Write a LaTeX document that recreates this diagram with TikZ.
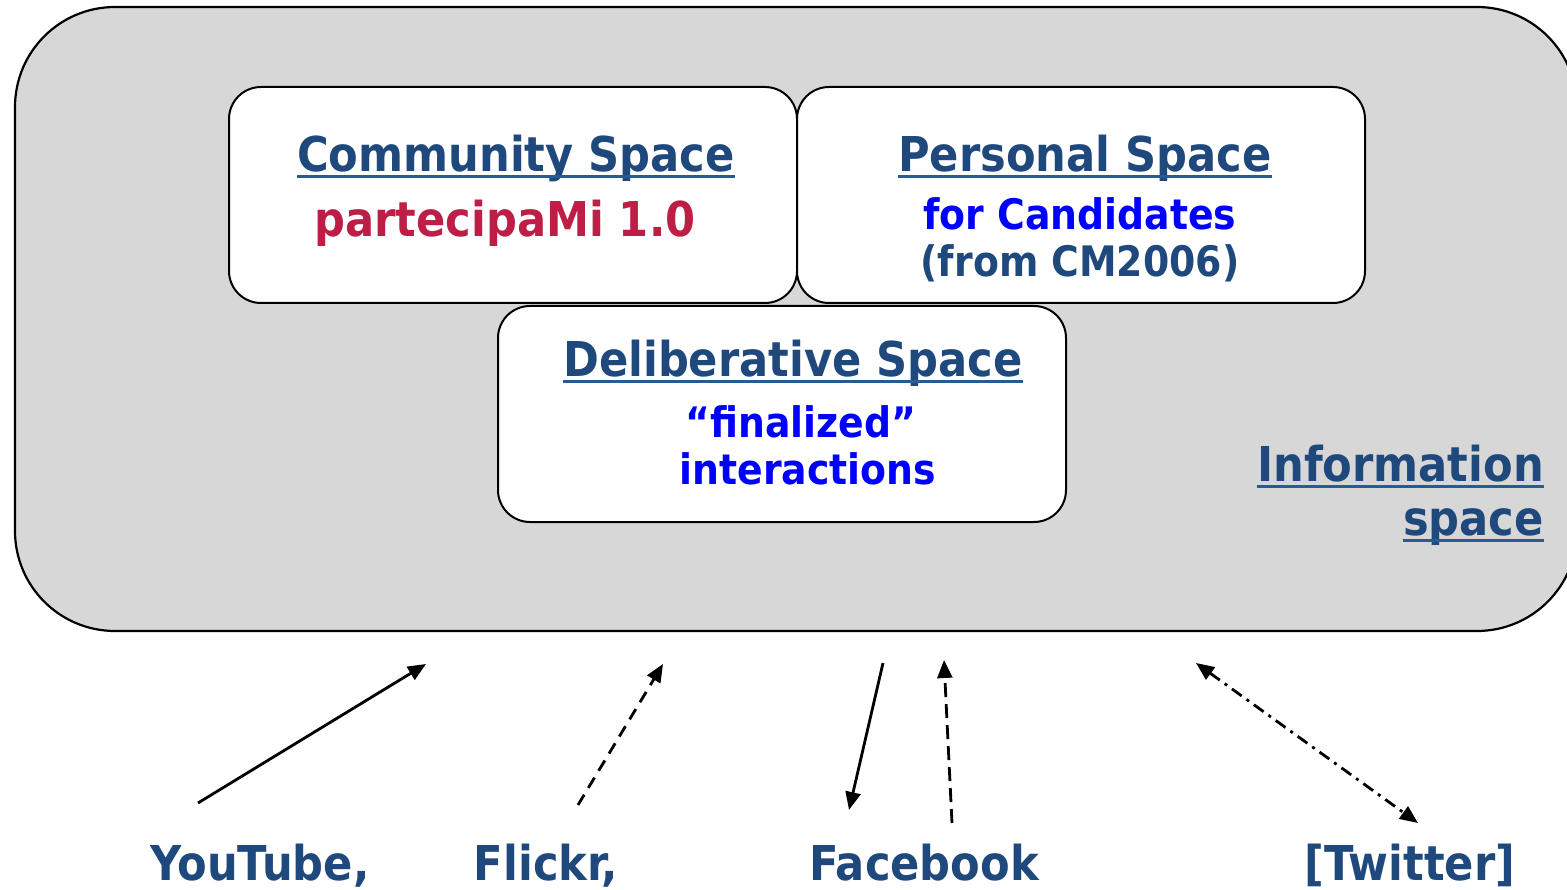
\documentclass[tikz,border=0pt]{standalone}
\usepackage{fontspec}
\setmainfont{DejaVu Sans Condensed}
\usetikzlibrary{arrows.meta}
\definecolor{navy}{RGB}{31,73,125}
\definecolor{uline}{RGB}{40,90,150}
\definecolor{crimson}{RGB}{190,30,70}
\definecolor{pureblue}{RGB}{0,0,255}
\definecolor{panel}{RGB}{215,215,215}
\tikzset{
  big/.style={font=\fontsize{48}{48}\selectfont\bfseries, inner sep=0pt, anchor=base},
  mid/.style={font=\fontsize{42}{42}\selectfont\bfseries, inner sep=0pt, anchor=base},
  title/.style={big, text=navy},
  spacebox/.style={draw=black, line width=2pt, fill=white, rounded corners=32pt,
     minimum width=568pt, minimum height=216pt, inner sep=0pt},
  conn/.style={line width=2.8pt, -{Triangle[length=18pt,width=15pt]}},
  ul/.style={uline, line width=3pt}
}
\newcommand{\uline}[1]{\draw[ul] ([yshift=-5pt]#1.base west) -- ([yshift=-5pt]#1.base east);}
\begin{document}
\begin{tikzpicture}[x=1pt,y=-1pt]
\useasboundingbox (0,0) rectangle (1567,890);
% information space panel
\draw[fill=panel, line width=2.2pt, rounded corners=100pt] (15,7) rectangle (1577,631);
% inner spaces
\node[spacebox] (community) at (513,195) {};
\node[spacebox] (personal) at (1081,195) {};
\node[spacebox] (delib) at (782,414) {};
% texts
\node[title] (ct) at (516,172) {Community Space};
\uline{ct}
\node[big, text=crimson] (cs) at (505,237) {partecipaMi 1.0};
\node[title] (pt) at (1085,172) {Personal Space};
\uline{pt}
\node[mid, text=pureblue] (ps1) at (1080,230) {for Candidates};
\node[mid, text=navy] (ps2) at (1080,277) {(from CM2006)};
\node[title] (dt) at (793,377) {Deliberative Space};
\uline{dt}
\node[mid, text=pureblue] (ds1) at (801,438) {“finalized”};
\node[mid, text=pureblue] (ds2) at (808,485) {interactions};
\node[title, anchor=base east] (it1) at (1544,482) {Information};
\uline{it1}
\node[title, anchor=base east] (it2) at (1544,535) {space};
\uline{it2}
% sources
\node[title] (yt) at (260,880) {YouTube,};
\node[title] (fl) at (546,880) {Flickr,};
\node[title] (fb) at (924,880) {Facebook};
\node[title] (tw) at (1410,880) {[Twitter]};
% connector end points
\coordinate (ya) at (198,803); \coordinate (yb) at (426,664);
\coordinate (fa) at (578,805); \coordinate (fb1) at (663,664);
\coordinate (ga) at (883,663); \coordinate (gb) at (849,810);
\coordinate (ha) at (952,823); \coordinate (hb) at (944,660);
\coordinate (ta) at (1196,663); \coordinate (tb) at (1418,823);
\draw[conn] (ya) -- (yb);
\draw[conn, dash pattern=on 12pt off 8pt] (fa) -- (fb1);
\draw[conn] (ga) -- (gb);
\draw[conn, dash pattern=on 14pt off 7pt] (ha) -- (hb);
\draw[conn, {Triangle[length=18pt,width=15pt]}-{Triangle[length=18pt,width=15pt]}, dash pattern=on 12pt off 6pt on 3pt off 6pt] (ta) -- (tb);
\end{tikzpicture}
\end{document}
